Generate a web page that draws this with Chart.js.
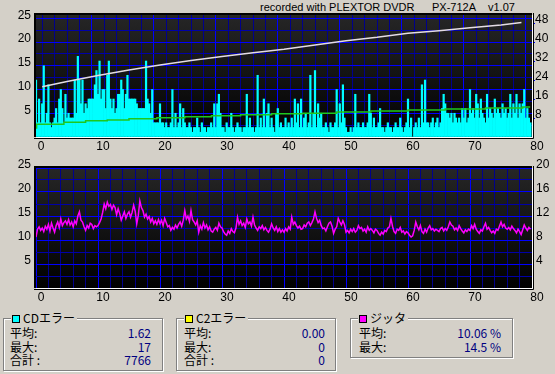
<!DOCTYPE html>
<html>
<head>
<meta charset="utf-8">
<script src="https://cdn.jsdelivr.net/npm/chart.js@4.4.1/dist/chart.umd.min.js"></script>
<style>
  html, body { margin: 0; padding: 0; }
  body { width: 555px; height: 374px; background: #d4d0c8; position: relative; overflow: hidden;
         font-family: "Liberation Sans", Arial, sans-serif; font-size: 12px; color: #000; }
  canvas { position: absolute; left: 0; }
  #chart-c1 { top: 0; }
  #chart-jitter { top: 152px; }
  .title { position: absolute; top: 1px; white-space: pre; font-size: 11px; }
  .grp { position: absolute; border: 1px solid #808080; box-shadow: inset 1px 1px 0 #fff, 1px 1px 0 #fff;
         font-family: "Noto Sans CJK JP", sans-serif; font-size: 12px; }
  .cap { position: absolute; top: -9px; background: #d4d0c8; padding: 0 2px 0 1px; line-height: 15px; white-space: nowrap; }
  .sw { display: inline-block; width: 6px; height: 6px; border: 1px solid #000; margin-right: 3px; }
  .row { position: absolute; line-height: 14px; white-space: nowrap; }
  .row b { position: absolute; right: 0; top: 0; font-weight: normal; color: #000080; }
</style>
</head>
<body>
<div class="title" style="left:260px">recorded with PLEXTOR DVDR</div>
<div class="title" style="left:432px">PX-712A</div>
<div class="title" style="left:488px">v1.07</div>
<canvas id="chart-c1" width="555" height="152"></canvas>
<canvas id="chart-jitter" width="555" height="152"></canvas>

<div class="grp" style="left:3px;top:318px;width:158px;height:51px">
  <div class="cap" style="left:7px"><span class="sw" style="background:#00ffff"></span>CDエラー</div>
  <div class="row" style="left:6px;right:11px;top:7px">平均:<b id="c1-avg"></b></div>
  <div class="row" style="left:6px;right:11px;top:21px">最大:<b id="c1-max"></b></div>
  <div class="row" style="left:6px;right:11px;top:34px">合計 :<b id="c1-sum"></b></div>
</div>
<div class="grp" style="left:176px;top:318px;width:158px;height:51px">
  <div class="cap" style="left:7px"><span class="sw" style="background:#ffff00"></span>C2エラー</div>
  <div class="row" style="left:7px;right:10px;top:7px">平均:<b id="c2-avg"></b></div>
  <div class="row" style="left:7px;right:10px;top:21px">最大:<b id="c2-max"></b></div>
  <div class="row" style="left:7px;right:10px;top:34px">合計 :<b id="c2-sum"></b></div>
</div>
<div class="grp" style="left:350px;top:318px;width:161px;height:38px">
  <div class="cap" style="left:7px"><span class="sw" style="background:#ff00ff"></span>ジッタ</div>
  <div class="row" style="left:8px;right:11px;top:7px">平均:<b id="jit-avg"></b></div>
  <div class="row" style="left:8px;right:11px;top:21px">最大:<b id="jit-max"></b></div>
</div>

<script>
// time axis (minutes)
const sampleStep = 0.25;
const timeTicks = [0, 10, 20, 30, 40, 50, 60, 70, 80];
const errorTicks = [5, 10, 15, 20, 25];
const speedTicks = [8, 16, 24, 32, 40, 48];
const jitterTicks = [4, 8, 12, 16, 20];

// C1 errors per sample, one value every 0.25 min
const c1Errors = [
  12, 3, 8, 3, 7, 15, 3, 5, 11, 3, 2, 3, 4, 6, 3, 8, 10, 6, 3, 9,
  4, 5, 4, 4, 4, 12, 5, 17, 12, 7, 12, 5, 7, 6, 8, 8, 8, 8, 11, 14,
  9, 16, 8, 10, 10, 6, 13, 16, 8, 6, 8, 5, 6, 9, 9, 12, 10, 6, 9, 13,
  8, 8, 8, 8, 8, 7, 6, 6, 6, 6, 6, 16, 8, 7, 5, 10, 3, 3, 3, 3,
  7, 3, 3, 2, 3, 2, 2, 3, 10, 2, 5, 2, 3, 7, 2, 6, 3, 2, 2, 3,
  2, 1, 2, 2, 4, 2, 1, 3, 2, 2, 1, 2, 2, 3, 2, 7, 2, 7, 9, 5,
  2, 2, 1, 3, 2, 2, 5, 2, 1, 2, 3, 2, 2, 1, 2, 2, 9, 2, 4, 2,
  2, 1, 2, 13, 2, 4, 2, 8, 2, 5, 7, 2, 4, 2, 1, 5, 6, 2, 3, 2,
  2, 4, 2, 3, 2, 4, 2, 8, 3, 7, 2, 8, 2, 4, 5, 2, 3, 13, 2, 5,
  14, 2, 7, 4, 5, 2, 2, 3, 2, 1, 3, 2, 2, 3, 10, 2, 7, 3, 11, 4,
  2, 1, 1, 2, 1, 2, 9, 2, 3, 2, 2, 3, 2, 2, 3, 9, 5, 2, 4, 2,
  2, 3, 6, 2, 2, 1, 2, 3, 2, 2, 1, 2, 3, 2, 2, 4, 2, 1, 2, 3,
  8, 2, 4, 0, 2, 3, 2, 4, 2, 11, 3, 12, 3, 3, 2, 3, 4, 2, 3, 4,
  2, 3, 6, 9, 7, 5, 5, 4, 5, 3, 5, 4, 3, 4, 3, 6, 4, 6, 3, 4,
  10, 5, 6, 4, 9, 7, 4, 8, 5, 4, 3, 9, 4, 6, 5, 4, 8, 5, 6, 5,
  4, 7, 5, 6, 4, 5, 9, 4, 7, 5, 9, 4, 7, 5, 7, 10, 4, 6, 4, 3,
];

// jitter %, one value every 0.25 min
const jitterPct = [
  8.5, 9.8, 10.2, 9.6, 10.0, 9.4, 10.3, 9.8, 10.6, 9.5, 10.8, 10.0, 9.3, 10.4, 11.0, 10.1, 11.5, 10.4, 10.9, 11.2,
  10.6, 11.4, 10.5, 11.0, 10.2, 11.2, 10.7, 12.0, 12.7, 11.3, 11.0, 10.2, 9.6, 10.4, 10.0, 10.8, 10.6, 9.9, 10.4, 10.2,
  10.4, 10.9, 11.5, 12.6, 14.0, 13.2, 14.3, 13.6, 13.9, 13.1, 13.8, 13.4, 12.2, 13.2, 12.4, 11.3, 12.0, 12.7, 11.6, 12.3,
  12.7, 11.8, 12.6, 13.8, 12.8, 10.7, 12.1, 14.5, 13.4, 12.9, 11.8, 12.3, 11.5, 11.9, 11.0, 11.6, 10.7, 11.2, 10.6, 11.4,
  10.7, 11.3, 10.4, 11.6, 10.9, 10.2, 10.4, 9.6, 10.1, 9.8, 10.5, 10.0, 10.6, 11.0, 10.3, 11.3, 12.9, 11.5, 12.0, 11.1,
  12.9, 11.4, 11.0, 10.5, 11.2, 9.3, 10.4, 9.8, 10.9, 10.0, 10.5, 9.7, 10.2, 9.5, 9.3, 9.8, 10.1, 9.6, 10.8, 10.2,
  10.0, 9.4, 9.0, 8.8, 9.5, 9.1, 9.9, 9.4, 9.2, 10.0, 11.8, 10.6, 11.2, 10.4, 10.8, 10.1, 11.5, 10.7, 11.0, 10.3,
  11.8, 10.5, 10.0, 9.6, 10.2, 9.9, 10.4, 9.7, 10.1, 9.6, 9.3, 9.8, 10.7, 10.0, 9.6, 10.2, 9.4, 9.9, 9.3, 9.7,
  9.3, 9.9, 9.5, 10.2, 9.8, 11.8, 10.6, 11.0, 10.4, 10.0, 10.3, 9.8, 9.9, 10.5, 10.2, 10.8, 11.0, 10.4, 10.9, 11.5,
  12.7, 11.6, 10.9, 11.3, 10.4, 9.9, 10.0, 9.5, 10.2, 10.8, 11.0, 10.3, 9.1, 9.8, 10.2, 11.6, 11.0, 10.5, 11.2, 10.6,
  9.3, 9.6, 9.2, 9.8, 9.4, 9.9, 9.3, 9.6, 10.4, 9.9, 10.1, 9.5, 9.8, 9.3, 10.2, 9.6, 9.9, 9.6, 9.2, 9.8,
  9.6, 9.1, 8.8, 9.3, 9.0, 9.6, 9.4, 10.0, 10.2, 11.6, 10.3, 9.4, 9.1, 9.8, 9.6, 10.1, 9.3, 9.5, 9.0, 9.4,
  9.2, 8.8, 8.5, 8.7, 9.6, 11.0, 10.2, 9.7, 10.4, 9.4, 9.1, 9.8, 9.3, 10.0, 10.4, 9.7, 9.9, 9.5, 9.8, 9.6,
  9.4, 9.9, 10.1, 9.5, 9.9, 9.6, 10.2, 11.0, 10.5, 10.3, 9.7, 10.0, 9.6, 10.4, 9.9, 9.5, 9.2, 9.7, 9.4, 9.8,
  9.6, 10.4, 9.9, 10.6, 9.8, 9.4, 9.1, 9.7, 9.5, 10.2, 10.8, 9.8, 10.1, 9.6, 9.2, 9.5, 9.1, 9.8, 9.6, 10.3,
  11.0, 10.2, 10.6, 10.0, 9.8, 10.1, 9.7, 10.3, 9.9, 9.6, 9.2, 9.8, 9.4, 8.9, 9.7, 10.5, 10.0, 9.6, 10.1, 9.8,
];

// read speed (x) along the disc
const speedTime = [1, 5, 10, 15, 20, 25, 30, 35, 40, 45, 50, 55, 60, 65, 70, 75, 78.3];
const speedX = [21.2, 23.4, 25.9, 28.2, 30.3, 32.2, 33.9, 35.5, 37.0, 38.8, 40.6, 42.0, 43.7, 44.8, 46.0, 47.2, 48.2];

// green step line (left scale)
const stepTime = [0, 0.1, 4.5, 8, 11.5, 15, 19.5, 24, 28.3, 33, 38, 43, 48.5, 54, 60, 66, 72.5, 78.5, 79.7];
const stepLevel = [1.9, 2.7, 3.1, 3.4, 3.6, 3.85, 4.05, 4.25, 4.5, 4.7, 4.9, 5.0, 5.25, 5.5, 5.7, 5.9, 6.1, 6.3, 6.3];

// summary boxes
const c1Summary = { avg: "1.62", max: "17", sum: "7766" };
const c2Summary = { avg: "0.00", max: "0", sum: "0" };
const jitterSummary = { avg: "10.06 %", max: "14.5 %" };

document.getElementById("c1-avg").textContent = c1Summary.avg;
document.getElementById("c1-max").textContent = c1Summary.max;
document.getElementById("c1-sum").textContent = c1Summary.sum;
document.getElementById("c2-avg").textContent = c2Summary.avg;
document.getElementById("c2-max").textContent = c2Summary.max;
document.getElementById("c2-sum").textContent = c2Summary.sum;
document.getElementById("jit-avg").textContent = jitterSummary.avg;
document.getElementById("jit-max").textContent = jitterSummary.max;

Chart.defaults.font.family = "'Liberation Sans', Arial, sans-serif";
Chart.defaults.font.size = 12;
Chart.defaults.color = "#000";
Chart.defaults.animation = false;

function steps(from, to, step) {
  const out = [];
  for (let v = from; v <= to + 1e-9; v += step) out.push({ value: Math.round(v * 100) / 100 });
  return out;
}

// dark plot background and the sunken frame
const plotFrame = {
  id: "plotFrame",
  beforeDraw(chart) {
    const { ctx, chartArea: a } = chart;
    const g = ctx.createLinearGradient(0, a.top, 0, a.bottom);
    g.addColorStop(0, "#262626");
    g.addColorStop(1, "#000000");
    ctx.save();
    ctx.fillStyle = g;
    ctx.fillRect(a.left, a.top, a.right - a.left, a.bottom - a.top);
    ctx.restore();
  },
  afterDraw(chart) {
    const { ctx, chartArea: a } = chart;
    ctx.save();
    ctx.lineWidth = 2;
    ctx.strokeStyle = "#000";
    ctx.beginPath();
    ctx.moveTo(a.left - 1, a.bottom);
    ctx.lineTo(a.left - 1, a.top - 1);
    ctx.lineTo(a.right, a.top - 1);
    ctx.stroke();
    ctx.lineWidth = 1;
    ctx.strokeStyle = "#fff";
    ctx.beginPath();
    ctx.moveTo(a.left, a.bottom + 0.5);
    ctx.lineTo(a.right + 0.5, a.bottom + 0.5);
    ctx.lineTo(a.right + 0.5, a.top);
    ctx.stroke();
    ctx.strokeStyle = "#000";
    ctx.beginPath();
    ctx.moveTo(a.left - 2, a.bottom + 1.5);
    ctx.lineTo(a.right + 1.5, a.bottom + 1.5);
    ctx.lineTo(a.right + 1.5, a.top - 2);
    ctx.stroke();
    ctx.restore();
  },
};

function tickValue(c) {
  return c && c.tick ? c.tick.value : 0;
}

function timeAxis(h) {
  return {
    type: "linear",
    min: 0,
    max: 80,
    offset: false,
    afterBuildTicks: (s) => { s.ticks = steps(0, 80, 2); },
    afterFit: (s) => { s.height = h; },
    grid: { color: (c) => (tickValue(c) % 10 === 0 ? "#0000ff" : "#00008c"), drawTicks: false },
    border: { display: false },
    ticks: {
      autoSkip: false, maxRotation: 0, padding: 2, labelOffset: 5,
      callback: (v) => (timeTicks.includes(v) ? String(v) : ""),
    },
  };
}

function errorAxis(max) {
  return {
    type: "linear",
    position: "left",
    min: 0,
    max: max,
    afterBuildTicks: (s) => { s.ticks = steps(0, 25, 2.5); },
    afterFit: (s) => { s.width = 36; },
    grid: { color: (c) => (tickValue(c) % 5 === 0 ? "#0000ff" : "#0000a8"), drawTicks: false },
    border: { display: false },
    ticks: {
      autoSkip: false, padding: 5, labelOffset: -3,
      callback: (v) => (errorTicks.includes(v) ? String(v) : ""),
    },
  };
}

function rightAxis(max, list, tickMarks) {
  return {
    type: "linear",
    position: "right",
    min: 0,
    max: max,
    afterBuildTicks: (s) => { s.ticks = list.map((v) => ({ value: v })); },
    afterFit: (s) => { s.width = 23; },
    grid: { drawOnChartArea: false, drawTicks: tickMarks, tickLength: 3, tickColor: "#0000ff" },
    border: { display: false },
    ticks: { autoSkip: false, padding: tickMarks ? 0 : 4, labelOffset: -3 },
  };
}

const noExtras = {
  legend: { display: false },
  tooltip: { enabled: false },
};

new Chart(document.getElementById("chart-c1"), {
  type: "bar",
  data: {
    datasets: [
      {
        type: "line",
        label: "speed",
        data: speedTime.map((t, i) => ({ x: t, y: speedX[i] })),
        yAxisID: "ySpeed",
        borderColor: "#e4dce4",
        borderWidth: 1.5,
        pointRadius: 0,
        order: 1,
      },
      {
        type: "line",
        label: "level",
        data: stepTime.map((t, i) => ({ x: t, y: stepLevel[i] })),
        yAxisID: "y",
        borderColor: "#1ec81e",
        borderWidth: 1.5,
        pointRadius: 0,
        stepped: true,
        order: 2,
      },
      {
        label: "C1",
        data: c1Errors.map((v, i) => ({ x: i * sampleStep, y: v })),
        yAxisID: "y",
        backgroundColor: "#00ffff",
        borderWidth: 0,
        barPercentage: 1,
        categoryPercentage: 1,
        order: 3,
      },
    ],
  },
  options: {
    responsive: false,
    layout: { padding: { top: 15, left: 0, right: 0, bottom: 0 } },
    scales: {
      x: timeAxis(15),
      y: errorAxis(25.7),
      ySpeed: rightAxis(51.4, speedTicks, true),
    },
    plugins: noExtras,
  },
  plugins: [plotFrame],
});

new Chart(document.getElementById("chart-jitter"), {
  type: "line",
  data: {
    datasets: [
      {
        label: "jitter",
        data: jitterPct.map((v, i) => ({ x: i * sampleStep, y: v })),
        yAxisID: "yJitter",
        borderColor: "#ff00ff",
        borderWidth: 1.5,
        pointRadius: 0,
      },
    ],
  },
  options: {
    responsive: false,
    layout: { padding: { top: 16, left: 0, right: 0, bottom: 0 } },
    scales: {
      x: timeAxis(16),
      y: errorAxis(25),
      yJitter: rightAxis(20, jitterTicks, false),
    },
    plugins: noExtras,
  },
  plugins: [plotFrame],
});
</script>
</body>
</html>
